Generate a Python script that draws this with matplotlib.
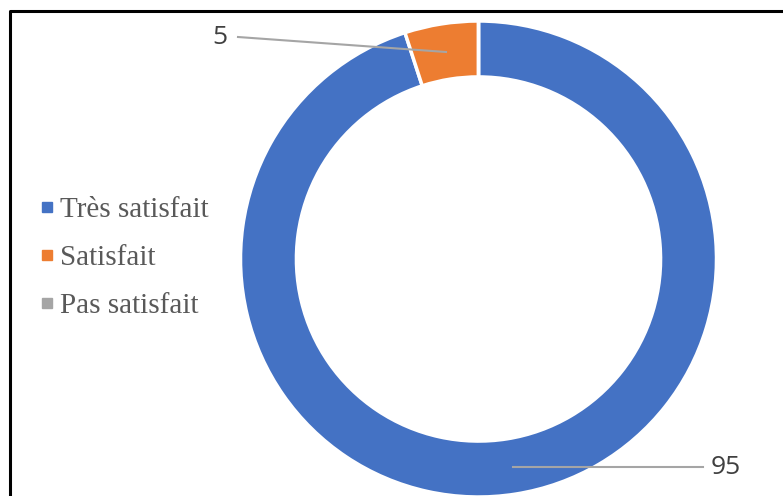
import matplotlib.pyplot as plt
from matplotlib.lines import Line2D

# data
categories = ['Très satisfait', 'Satisfait', 'Pas satisfait']
values = [95, 5, 0]
colors = ['#4472C4', '#ED7D31', '#A5A5A5']

W, H = 783, 496
fig = plt.figure(figsize=(W / 100, H / 100), dpi=100)

# donut: centre (478.5, 259) px, outer radius 238 px
cx, cy, r = 478.5, 259, 238
ax = fig.add_axes([(cx - r) / W, (H - cy - r) / H, 2 * r / W, 2 * r / H])
wedges, _ = ax.pie(values, colors=colors, startangle=90, counterclock=False,
                   radius=1.0, wedgeprops=dict(width=0.235, edgecolor='white', linewidth=2.5))
ax.set_xlim(-1, 1)
ax.set_ylim(-1, 1)
ax.set_aspect('equal')
ax.axis('off')

# helper: figure pixel coords -> fraction
def px(x, y):
    return x / W, 1 - y / H

# data labels with leader lines
lab_font = dict(family='Open Sans', fontsize=19, color='#404040')
fig.add_artist(Line2D(*zip(px(238, 37), px(446, 52)), color='#A5A5A5', lw=1.5))
fig.text(*px(220, 38), str(values[1]), ha='center', va='center', **lab_font)
fig.add_artist(Line2D(*zip(px(513, 467), px(703, 467)), color='#A5A5A5', lw=1.5))
fig.text(*px(726, 467), str(values[0]), ha='center', va='center', **lab_font)

# legend drawn by hand
row_gap = 48
for i, (name, c) in enumerate(zip(categories, colors)):
    base = 217 + i * row_gap
    fig.add_artist(Line2D([px(46.5, 0)[0]], [px(0, base - 10)[1]], marker='s',
                          markersize=7.5, color=c, linestyle='none'))
    fig.text(*px(60, base), name, ha='left', va='baseline',
             family='Liberation Serif', fontsize=21, color='#595959')

# outer frame (only top and left visible in crop)
fig.add_artist(Line2D(*zip(px(10, 500), px(10, 11), px(790, 11)), color='black', lw=2.2))

fig.savefig('out.png', dpi=100)
